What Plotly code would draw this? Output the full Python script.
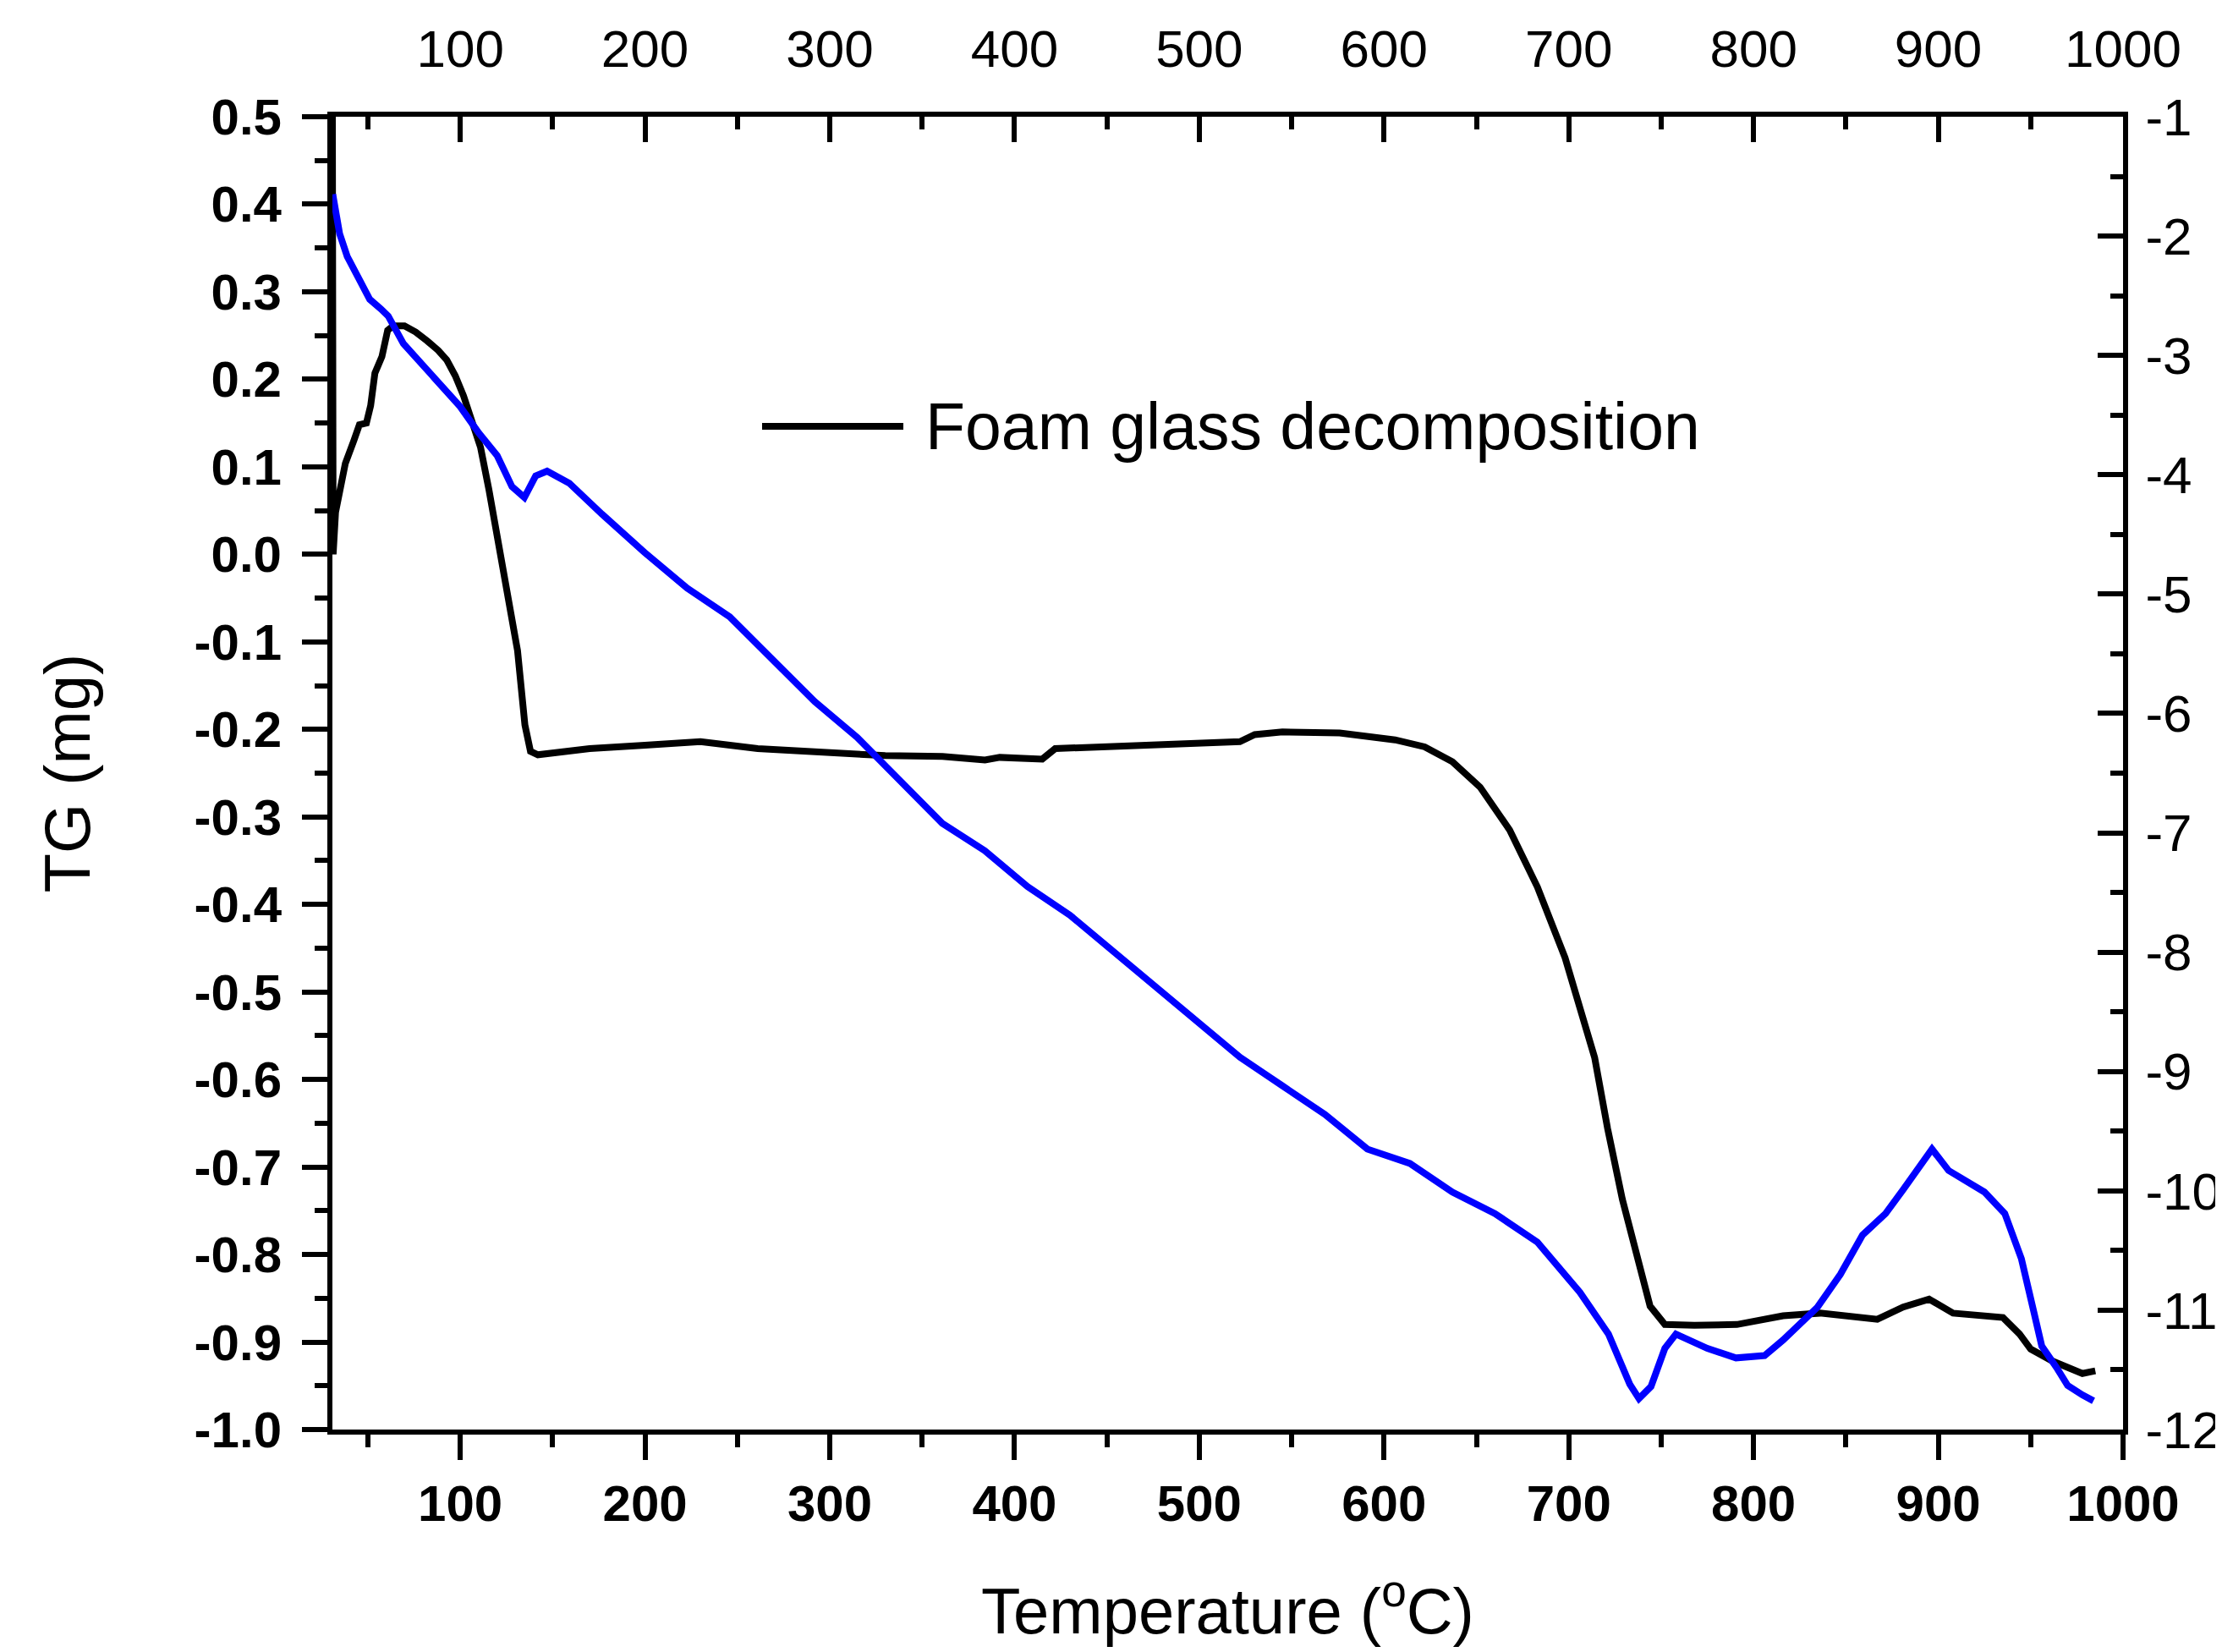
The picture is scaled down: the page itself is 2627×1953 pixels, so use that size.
import plotly.graph_objects as go

# ---- data ----
black_T = [30.8, 31.2, 32.5, 34.8, 37.8, 42.4, 45.4, 49.2, 51.5, 53.8, 57.6, 60.7, 63.7, 69.8, 75.9,
           82, 88.1, 92.7, 97.3, 101.8, 106.4, 111, 115.5, 120.1, 126, 131, 135, 138, 142, 150, 170,
           200, 230, 261, 300, 330, 361, 384, 392, 415, 422, 468, 507, 522, 530, 545, 576, 606,
           622, 637, 652, 668, 683, 698, 714, 721, 729, 737, 744, 752, 768, 791, 816, 836, 867,
           881, 895, 908, 924, 935, 944, 950, 962, 978, 985]
black_TG = [0.5, 0.0, 0.048, 0.074, 0.104, 0.130, 0.148, 0.150, 0.170, 0.207, 0.226, 0.256, 0.261, 0.261, 0.254,
            0.244, 0.233, 0.222, 0.204, 0.181, 0.152, 0.122, 0.074, 0.022, -0.05, -0.11, -0.195, -0.225, -0.229, -0.227, -0.222,
            -0.218, -0.214, -0.222, -0.226, -0.230, -0.231, -0.235, -0.232, -0.234, -0.222, -0.218, -0.214, -0.214, -0.206, -0.203, -0.204, -0.212,
            -0.220, -0.237, -0.266, -0.315, -0.380, -0.461, -0.575, -0.656, -0.737, -0.802, -0.859, -0.880, -0.881, -0.880, -0.870, -0.867, -0.874,
            -0.860, -0.851, -0.867, -0.869, -0.872, -0.891, -0.908, -0.922, -0.936, -0.933]

blue_T = [31, 34.7, 38.8, 44.9, 51, 57, 61, 69.2, 79.4, 89.6, 100, 110, 120, 128, 134.7, 140.8, 147, 159,
          171.4, 176.7, 199.7, 222.8, 245.8, 268.8, 291.8, 314.8, 337.9, 360.9, 383.9, 407, 430, 453, 476,
          499, 522, 545, 568, 591, 614, 637, 660, 683, 706, 721.5, 733, 738, 744.5, 752, 758, 775, 790.5,
          806, 816, 834.6, 847, 859, 871.5, 881, 896.6, 905.6, 925, 936, 945, 951.5, 956, 964, 970, 978, 984]
blue_V = [-1.65, -1.98, -2.17, -2.36, -2.53, -2.61, -2.67, -2.90, -3.08, -3.24, -3.43, -3.65, -3.84, -4.10, -4.19, -4.01, -3.97, -4.07,
          -4.26, -4.33, -4.65, -4.95, -5.19, -5.55, -5.90, -6.20, -6.56, -6.92, -7.15, -7.45, -7.69, -7.99, -8.29,
          -8.58, -8.88, -9.12, -9.36, -9.65, -9.77, -10.01, -10.19, -10.43, -10.85, -11.20, -11.62, -11.74, -11.64, -11.32, -11.20, -11.32, -11.40,
          -11.38, -11.25, -10.975, -10.70, -10.37, -10.19, -9.99, -9.65, -9.83, -10.01, -10.19, -10.57, -11.0, -11.3, -11.48, -11.63, -11.71, -11.76]

x_ticks = [100, 200, 300, 400, 500, 600, 700, 800, 900, 1000]
x_labels = ["100", "200", "300", "400", "500", "600", "700", "800", "900", "1000"]
left_ticks = [0.5, 0.4, 0.3, 0.2, 0.1, 0.0, -0.1, -0.2, -0.3, -0.4, -0.5, -0.6, -0.7, -0.8, -0.9, -1.0]
left_labels = ["0.5", "0.4", "0.3", "0.2", "0.1", "0.0", "-0.1", "-0.2", "-0.3", "-0.4", "-0.5",
               "-0.6", "-0.7", "-0.8", "-0.9", "-1.0"]
right_ticks = [-1, -2, -3, -4, -5, -6, -7, -8, -9, -10, -11, -12]
right_labels = ["-1", "-2", "-3", "-4", "-5", "-6", "-7", "-8", "-9", "-10", "-11", "-12"]

legend_label = "Foam glass decomposition"

FONT = "Liberation Sans, Arial, sans-serif"
W, H = 2627, 1953
L, R, T, B = 385, 125, 130, 271

fig = go.Figure()
fig.add_trace(go.Scatter(x=black_T, y=black_TG, mode="lines", name=legend_label,
                         line=dict(color="black", width=8), xaxis="x", yaxis="y", showlegend=False))
fig.add_trace(go.Scatter(x=blue_T, y=blue_V, mode="lines", name="DTG",
                         line=dict(color="#0000ff", width=8), xaxis="x", yaxis="y2", showlegend=False))
# empty trace so the mirrored top axis is drawn
fig.add_trace(go.Scatter(x=[None], y=[None], mode="lines", xaxis="x2", yaxis="y",
                         showlegend=False, hoverinfo="skip"))

xr = [30.8, 1000]
common_line = dict(showline=True, linewidth=6, linecolor="black", showgrid=False, zeroline=False,
                   tickwidth=6, tickcolor="black", automargin=False)

fig.update_layout(
    width=W, height=H,
    margin=dict(l=L, r=R, t=T, b=B, pad=0),
    paper_bgcolor="white", plot_bgcolor="white",
    font=dict(family=FONT, color="black"),
    showlegend=False,
    xaxis=dict(range=xr, tickmode="array", tickvals=x_ticks, ticktext=x_labels,
               ticks="outside", ticklen=30, side="bottom",
               tickfont=dict(size=60, family=FONT, weight="bold"),
               minor=dict(dtick=50, tick0=0, ticks="outside", ticklen=15, tickwidth=6, tickcolor="black", showgrid=False),
               title=dict(text="Temperature (<sup>o</sup>C)", font=dict(size=76, family=FONT), standoff=70),
               **common_line),
    xaxis2=dict(range=xr, overlaying="x", side="top", anchor="y", tickmode="array", tickvals=x_ticks, ticktext=x_labels,
                ticks="inside", ticklen=30, ticklabelstandoff=28,
                tickfont=dict(size=62, family=FONT),
                minor=dict(dtick=50, tick0=0, ticks="inside", ticklen=15, tickwidth=6, tickcolor="black", showgrid=False),
                **common_line),
    yaxis=dict(range=[-1.0, 0.5], tickmode="array", tickvals=left_ticks, ticktext=left_labels,
               ticks="outside", ticklen=30, ticklabelstandoff=12,
               tickfont=dict(size=60, family=FONT, weight="bold"),
               minor=dict(dtick=0.05, tick0=0, ticks="outside", ticklen=15, tickwidth=6, tickcolor="black", showgrid=False),
               title=dict(text="TG (mg)", font=dict(size=76, family=FONT), standoff=100),
               **common_line),
    yaxis2=dict(range=[-12, -1], overlaying="y", side="right", anchor="x", tickmode="array",
                tickvals=right_ticks, ticktext=right_labels,
                ticks="inside", ticklen=30, ticklabelstandoff=8,
                tickfont=dict(size=62, family=FONT),
                minor=dict(dtick=0.5, tick0=0, ticks="inside", ticklen=15, tickwidth=6, tickcolor="black", showgrid=False),
                **common_line),
)

# Manual legend entry (long line sample + label)
pw = W - L - R
ph = H - T - B
lx0 = (893 - L) / pw
lx1 = (1060 - L) / pw
ly = (H - B - 496) / ph
fig.add_shape(type="line", xref="paper", yref="paper", x0=lx0, x1=lx1, y0=ly, y1=ly,
              line=dict(color="black", width=8))
fig.add_annotation(xref="paper", yref="paper", x=(1084 - L) / pw, y=ly, xanchor="left", yanchor="middle",
                   text=legend_label, showarrow=False, font=dict(size=77, family=FONT, color="black"))

fig.write_html("out.html")
